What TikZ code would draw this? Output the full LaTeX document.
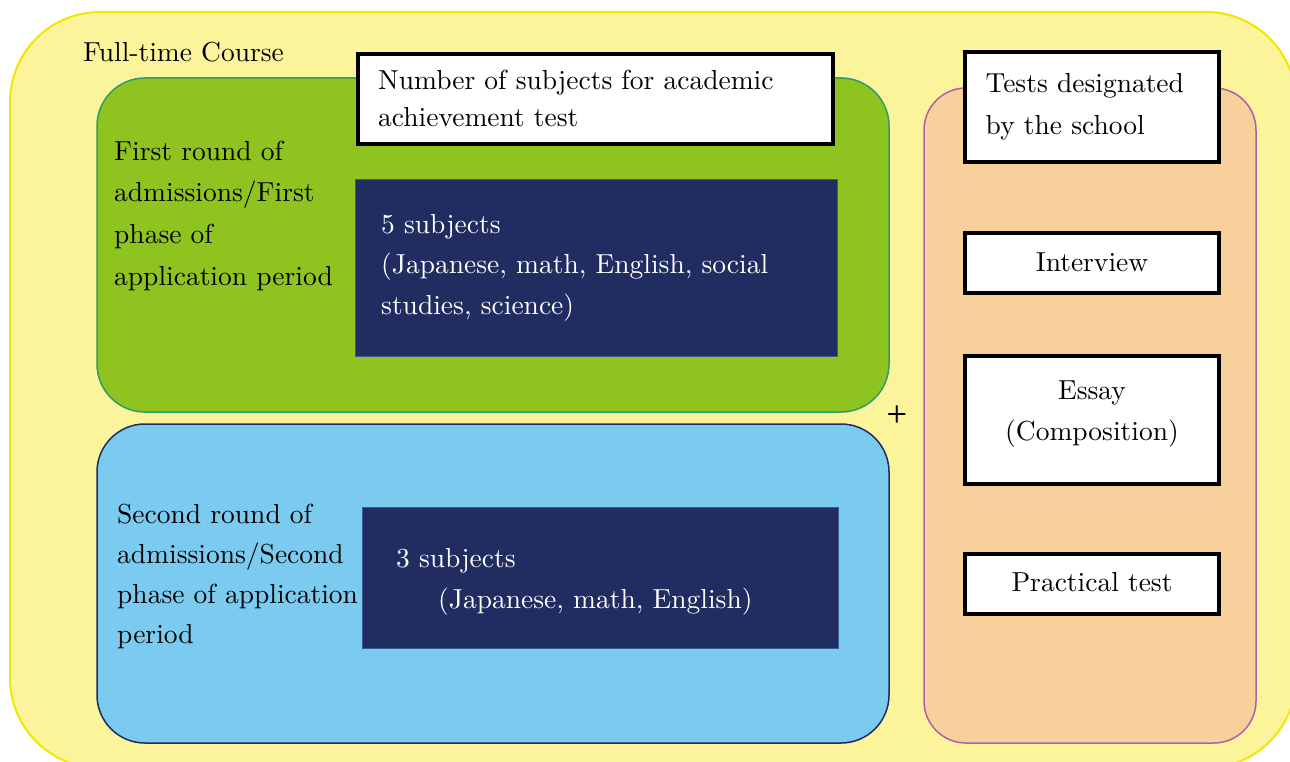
\documentclass[tikz,border=0pt]{standalone}
\usepackage{fontspec}
\setmainfont{lmroman10-regular}[Extension=.otf, BoldFont=lmroman10-bold, ItalicFont=lmroman10-italic]
\definecolor{yelF}{HTML}{FBF49B}
\definecolor{yelB}{HTML}{F2E600}
\definecolor{grnF}{HTML}{8FC320}
\definecolor{grnB}{HTML}{2E9B6B}
\definecolor{bluF}{HTML}{7BCBF0}
\definecolor{bluB}{HTML}{202B63}
\definecolor{navy}{HTML}{212C61}
\definecolor{navyB}{HTML}{3A5A9A}
\definecolor{orgF}{HTML}{F8D09B}
\definecolor{orgB}{HTML}{B35FA8}
\begin{document}
\begin{tikzpicture}[x=1pt,y=-1pt,
  txt/.style={inner sep=0pt, anchor=base west, align=left, font=\fontsize{27.5}{#1}\selectfont},
  ctxt/.style={inner sep=0pt, anchor=base, align=center, font=\fontsize{27.5}{#1}\selectfont},
  region/.style={draw=#1, rounded corners=48pt, line width=1.5pt, inner sep=0pt},
  wbox/.style={draw=black, line width=4pt, fill=white, inner sep=0pt},
  nbox/.style={fill=navy, draw=navyB, line width=0.6pt, inner sep=0pt}
]
\clip (0,0) rectangle (1290,762);
% outer course area
\node[draw=yelB, fill=yelF, line width=2pt, rounded corners=90pt, inner sep=0pt,
      minimum width=1286pt, minimum height=756pt] (outer) at (653,390) {};
\node[txt=42] (course) at (83,61.7) {Full-time Course};
% first round
\node[region=grnB, fill=grnF, minimum width=792pt, minimum height=334pt] (green) at (493,245) {};
\node[wbox, minimum width=475pt, minimum height=90pt] (numbox) at (595.5,99) {};
\node[txt=37] (numtxt) at (378,126.7) {Number of subjects for academic\\achievement test};
\node[txt=41.9] (first) at (114,285.7) {First round of\\admissions/First\\phase of\\application period};
\node[nbox, minimum width=482pt, minimum height=177pt] (five) at (596,267.5) {};
\node[txt=40.5, text=white] (fivetxt) at (381,314) {5 subjects\\(Japanese, math, English, social\\studies, science)};
% second round
\node[region=bluB, fill=bluF, minimum width=792pt, minimum height=319pt] (blue) at (493,583.5) {};
\node[txt=39.7] (second) at (117,643) {Second round of\\admissions/Second\\phase of application\\period};
\node[nbox, minimum width=476pt, minimum height=141pt] (three) at (600,577.5) {};
\node[txt=41, text=white] (threetxt) at (396,608) {3 subjects\\\hspace*{42pt}(Japanese, math, English)};
% plus
\node[inner sep=0pt, font=\sffamily\bfseries\fontsize{24}{24}\selectfont] (plus) at (897,414) {+};
% school tests
\node[region=orgB, fill=orgF, rounded corners=42pt, minimum width=332pt, minimum height=655pt] (school) at (1090,415.5) {};
\node[wbox, minimum width=254pt, minimum height=110pt] (tests) at (1092,107) {};
\node[txt=42.3] (teststxt) at (985.5,135) {Tests designated\\by the school};
\node[wbox, minimum width=254pt, minimum height=60pt] (interview) at (1092,263) {};
\node[ctxt=42] (interviewtxt) at (1092,271.7) {Interview};
\node[wbox, minimum width=254pt, minimum height=128pt] (essay) at (1092,419.5) {};
\node[ctxt=41] (essaytxt) at (1092,440) {Essay\\(Composition)};
\node[wbox, minimum width=254pt, minimum height=60pt] (practical) at (1092,584) {};
\node[ctxt=42] (practicaltxt) at (1092,591.7) {Practical test};
\end{tikzpicture}
\end{document}
